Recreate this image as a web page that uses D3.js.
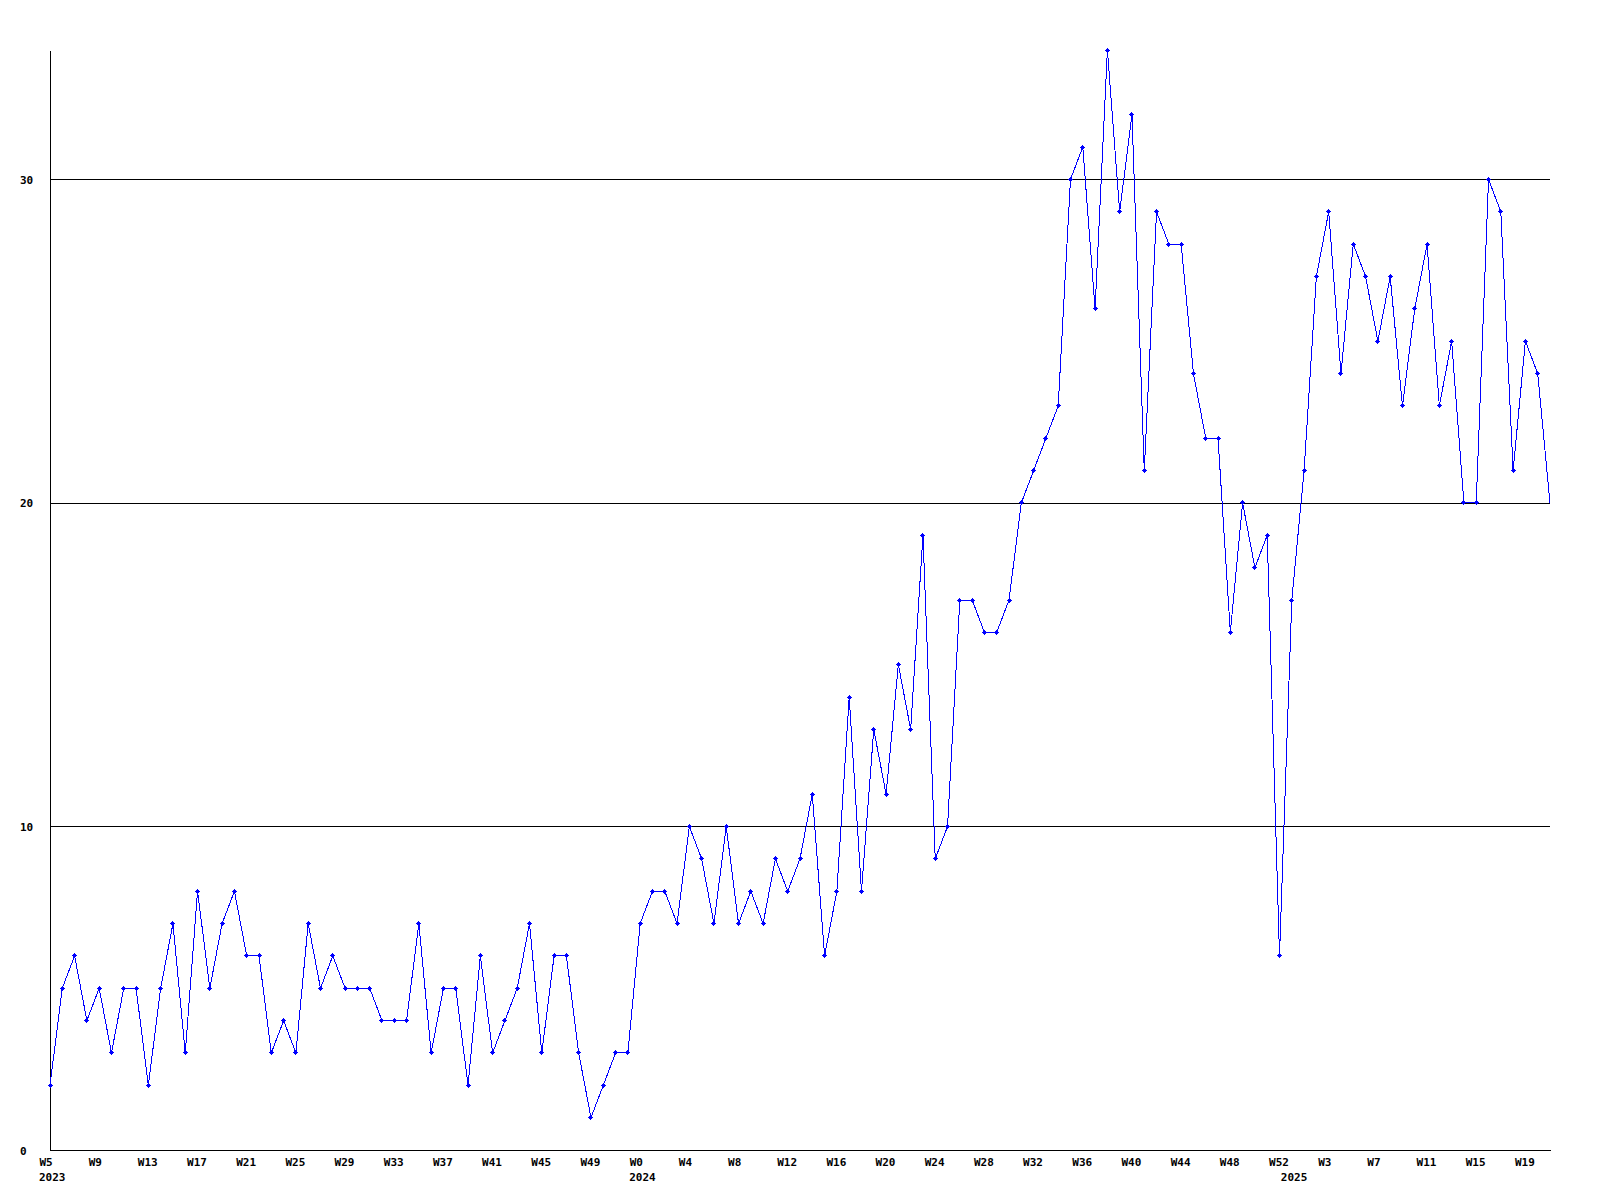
<!DOCTYPE html>
<html>
<head>
<meta charset="utf-8">
<script src="https://cdn.jsdelivr.net/npm/d3@7"></script>
<style>
  html, body { margin: 0; padding: 0; background: #ffffff; }
  svg { display: block; }
  text { font-family: "DejaVu Sans Mono", "Liberation Mono", monospace; font-weight: bold; font-size: 11px; fill: #000; }
</style>
</head>
<body>
<script>
// ---- data ----
const categories = [
  "2023-W5","2023-W6","2023-W7","2023-W8","2023-W9","2023-W10","2023-W11","2023-W12","2023-W13","2023-W14",
  "2023-W15","2023-W16","2023-W17","2023-W18","2023-W19","2023-W20","2023-W21","2023-W22","2023-W23","2023-W24",
  "2023-W25","2023-W26","2023-W27","2023-W28","2023-W29","2023-W30","2023-W31","2023-W32","2023-W33","2023-W34",
  "2023-W35","2023-W36","2023-W37","2023-W38","2023-W39","2023-W40","2023-W41","2023-W42","2023-W43","2023-W44",
  "2023-W45","2023-W46","2023-W47","2023-W48","2023-W49","2023-W50","2023-W51","2023-W52",
  "2024-W0","2024-W1","2024-W2","2024-W3","2024-W4","2024-W5","2024-W6","2024-W7","2024-W8","2024-W9",
  "2024-W10","2024-W11","2024-W12","2024-W13","2024-W14","2024-W15","2024-W16","2024-W17","2024-W18","2024-W19",
  "2024-W20","2024-W21","2024-W22","2024-W23","2024-W24","2024-W25","2024-W26","2024-W27","2024-W28","2024-W29",
  "2024-W30","2024-W31","2024-W32","2024-W33","2024-W34","2024-W35","2024-W36","2024-W37","2024-W38","2024-W39",
  "2024-W40","2024-W41","2024-W42","2024-W43","2024-W44","2024-W45","2024-W46","2024-W47","2024-W48","2024-W49",
  "2024-W50","2024-W51","2024-W52",
  "2025-W0","2025-W1","2025-W2","2025-W3","2025-W4","2025-W5","2025-W6","2025-W7","2025-W8","2025-W9",
  "2025-W10","2025-W11","2025-W12","2025-W13","2025-W14","2025-W15","2025-W16","2025-W17","2025-W18","2025-W19",
  "2025-W20","2025-W21"
];

const values = [
  2,5,6,4,5,3,5,5,2,5, 7,3,8,5,7,8,6,6,3,4, 3,7,5,6,5,5,5,4,4,4, 7,3,5,5,2,6,3,4,5,7, 3,6,6,3,1,2,3,3,
  7,8,8,7,10,9,7,10,7,8, 7,9,8,9,11,6,8,14,8,13, 11,15,13,19,9,10,17,17,16,16, 17,20,21,22,23,30,31,26,34,29,
  32,21,29,28,28,24,22,22,16,20, 18,19,6,
  17,21,27,29,24,28,27,25,27,23, 26,28,23,25,20,20,30,29,21,25, 24,20
];

const yTickValues = [0, 10, 20, 30];
const yMax = 34;

// ---- layout ----
const W = 1600, H = 1200;
const mLeft = 50, mRight = 1550, mTop = 50, mBottom = 1150;

const svg = d3.select("body").append("svg")
  .attr("width", W).attr("height", H)
  .attr("viewBox", `0 0 ${W} ${H}`);

svg.append("rect").attr("width", W).attr("height", H).attr("fill", "#fff");

const x = d3.scalePoint().domain(categories).range([mLeft, mRight]);
const y = d3.scaleLinear().domain([0, yMax]).range([mBottom, mTop]);

const points = categories.map((c, i) => ({ c, v: values[i] }));

// y axis with gridlines
const yAxis = svg.append("g")
  .attr("transform", `translate(${mLeft},0)`)
  .call(d3.axisLeft(y).tickValues(yTickValues).tickSize(-(mRight - mLeft)).tickSizeOuter(0).tickFormat(d3.format("d")));
yAxis.attr("font-family", null).attr("font-size", null);
yAxis.selectAll("path.domain").attr("stroke", "#000").attr("stroke-width", 1).attr("shape-rendering", "crispEdges");
yAxis.selectAll(".tick line").attr("stroke", "#000").attr("stroke-width", 1).attr("shape-rendering", "crispEdges");
yAxis.selectAll(".tick text")
  .attr("x", -30).attr("dy", null).attr("y", 4)
  .attr("text-anchor", "start");

// x axis
const weekTicks = categories.filter((d, i) => i % 4 === 0);
const xAxis = svg.append("g")
  .attr("transform", `translate(0,${mBottom})`)
  .call(d3.axisBottom(x).tickValues(weekTicks).tickSize(0).tickSizeOuter(0).tickFormat(d => d.split("-")[1]));
xAxis.attr("font-family", null).attr("font-size", null);
xAxis.selectAll("path.domain").attr("stroke", "#000").attr("stroke-width", 1).attr("shape-rendering", "crispEdges");
xAxis.selectAll(".tick text")
  .attr("x", -11).attr("y", 16).attr("dy", null)
  .attr("text-anchor", "start");

// year labels under first week of each year
const yearStarts = categories.filter((d, i) => i === 0 || d.split("-")[0] !== categories[i - 1].split("-")[0]);
svg.append("g").selectAll("text").data(yearStarts).join("text")
  .attr("x", d => x(d) - 11)
  .attr("y", mBottom + 31)
  .attr("text-anchor", "start")
  .text(d => d.split("-")[0]);

// line
const line = d3.line().x(d => x(d.c)).y(d => y(d.v));
svg.append("path")
  .datum(points)
  .attr("d", line)
  .attr("fill", "none")
  .attr("stroke", "#0000ff")
  .attr("stroke-width", 1)
  .attr("shape-rendering", "crispEdges");

// markers (last point sits on the right border and shows no marker)
const markerPath = "M-1,-1h3v3h-3z M-2,0h5v1h-5z M0,-2h1v5h-1z";
svg.append("g").selectAll("path").data(points.slice(0, -1)).join("path")
  .attr("transform", d => `translate(${Math.floor(x(d.c))},${Math.floor(y(d.v))})`)
  .attr("d", markerPath)
  .attr("fill", "#0000ff")
  .attr("shape-rendering", "crispEdges");
</script>
</body>
</html>
